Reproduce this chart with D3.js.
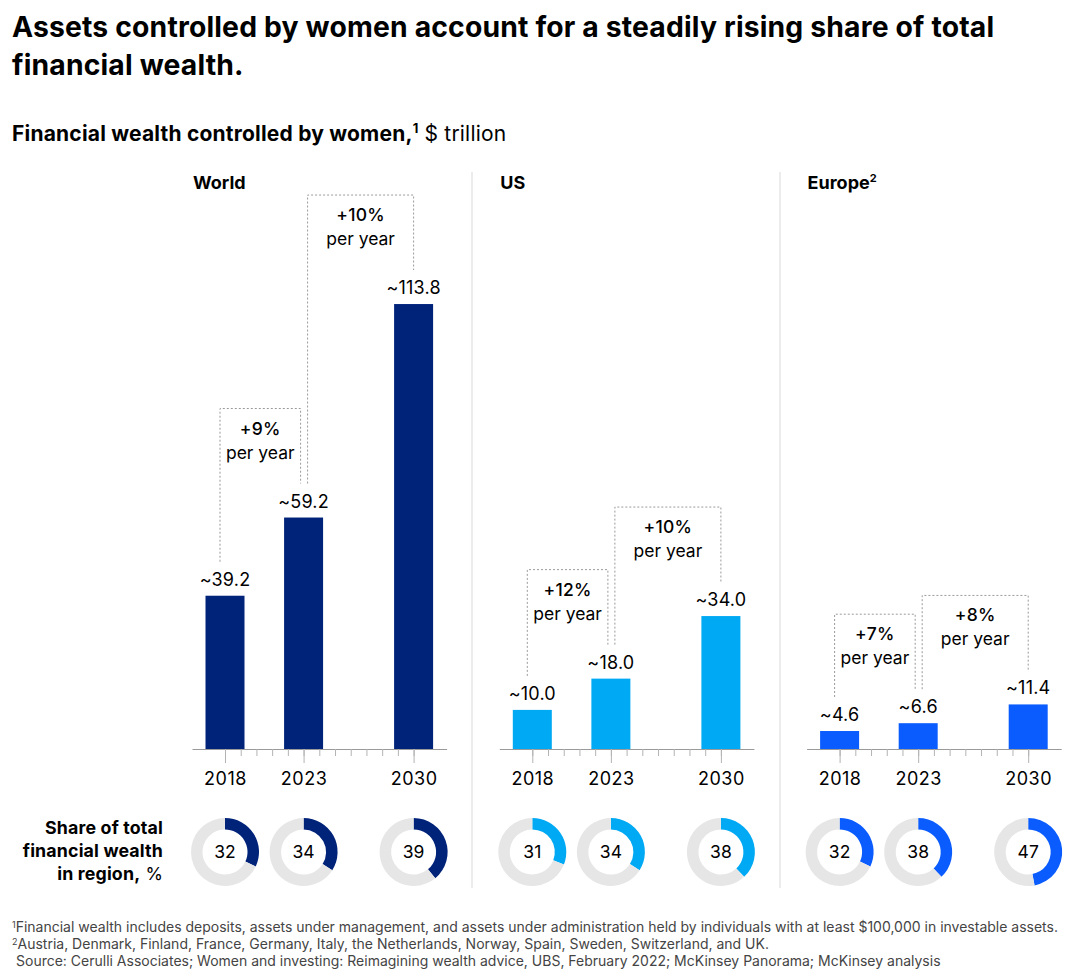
<!DOCTYPE html>
<html><head><meta charset="utf-8">
<script src="https://cdn.jsdelivr.net/npm/d3@7"></script>
<style>
body{margin:0;background:#fff;}
svg{display:block;font-family:Inter,"Liberation Sans",Arial,sans-serif;}
</style></head>
<body>
<svg id="chart" width="1080" height="978"></svg>
<script>
const years = [2018, 2023, 2030];
const regions = ["World", "US", "Europe"];
const worldValues = [39.2, 59.2, 113.8];
const usValues = [10.0, 18.0, 34.0];
const europeValues = [4.6, 6.6, 11.4];
const worldShares = [32, 34, 39];
const usShares = [31, 34, 38];
const europeShares = [32, 38, 47];
const worldGrowth = ["+9%", "+10%"];
const usGrowth = ["+12%", "+10%"];
const europeGrowth = ["+7%", "+8%"];
const regionColors = ["#00237a", "#00a9f4", "#0a5cff"];

const valuesByRegion = [worldValues, usValues, europeValues];
const sharesByRegion = [worldShares, usShares, europeShares];
const growthByRegion = [worldGrowth, usGrowth, europeGrowth];

const svg = d3.select("#chart");
const baseY = 749;
const y = d3.scaleLinear().domain([0, 120]).range([baseY, baseY - 469.2]);
const panelLefts = [192, 499.3, 806.6];
const panelW = 254.6;
const barW = 39;

// Title
const title = svg.append("text").attr("x", 12).attr("font-weight", 700).attr("font-size", 28.3)
  .attr("letter-spacing", 0.17).attr("fill", "#000");
title.append("tspan").attr("x", 12).attr("y", 37).text("Assets controlled by women account for a steadily rising share of total");
title.append("tspan").attr("x", 12).attr("y", 75).text("financial wealth.");

// Subtitle
const sub = svg.append("text").attr("x", 12).attr("y", 141).attr("font-size", 21).attr("letter-spacing", 0.2).attr("fill", "#000");
sub.append("tspan").attr("font-weight", 700).text("Financial wealth controlled by women,");
sub.append("tspan").attr("font-weight", 700).attr("font-size", 13).attr("dy", -8).text("1");
sub.append("tspan").attr("dy", 8).text(" $ trillion");

// Dividers
[472, 780].forEach(x => {
  svg.append("line").attr("x1", x).attr("x2", x).attr("y1", 172).attr("y2", 888)
    .attr("stroke", "#d9d9d9").attr("stroke-width", 1);
});

regions.forEach((region, ri) => {
  const left = panelLefts[ri];
  const x = d3.scaleLinear().domain([2015.9, 2032.1]).range([left, left + panelW]);
  const vals = valuesByRegion[ri];
  const shares = sharesByRegion[ri];
  const growth = growthByRegion[ri];
  const color = regionColors[ri];
  const g = svg.append("g");

  // Panel title
  const pt = g.append("text").attr("x", left + 1).attr("y", 189).attr("font-size", 18).attr("font-weight", 700).attr("fill", "#000");
  pt.append("tspan").text(region);
  if (region === "Europe") pt.append("tspan").attr("font-size", 11).attr("dy", -7).text("2");

  // Bars
  g.selectAll("rect.bar").data(vals).join("rect").attr("class", "bar")
    .attr("x", (d, i) => x(years[i]) - barW / 2)
    .attr("width", barW)
    .attr("y", d => y(d))
    .attr("height", d => baseY - y(d))
    .attr("fill", color);

  // Value labels
  g.selectAll("text.val").data(vals).join("text").attr("class", "val")
    .attr("x", (d, i) => x(years[i]))
    .attr("y", d => y(d) - 10)
    .attr("text-anchor", "middle").attr("font-size", 18).attr("letter-spacing", 0.2).attr("fill", "#000")
    .text(d => "~" + d.toFixed(1));

  // Axis: minor ticks every year
  const minor = d3.axisBottom(x).tickValues(d3.range(2018, 2031)).tickSize(7).tickSizeOuter(0).tickFormat("");
  const ga = g.append("g").attr("transform", `translate(0,${baseY})`).call(minor);
  ga.select(".domain").attr("stroke", "#9a9a9a");
  ga.selectAll(".tick line").attr("stroke", "#b3b3b3");
  const major = d3.axisBottom(x).tickValues(years).tickSize(14).tickPadding(9).tickFormat(d3.format("d"));
  const gm = g.append("g").attr("transform", `translate(0,${baseY})`).call(major);
  gm.select(".domain").remove();
  gm.selectAll(".tick line").attr("stroke", "#b3b3b3");
  gm.selectAll(".tick text").attr("font-size", 18).attr("letter-spacing", 0.5).attr("fill", "#000")
    .attr("font-family", "Inter, Liberation Sans, Arial, sans-serif");

  // Growth brackets
  const pairs = [[0, 1, -5, -3], [1, 2, 4, 0]];
  pairs.forEach((p, k) => {
    const x1 = x(years[p[0]]) + p[2];
    const x2 = x(years[p[1]]) + p[3];
    const topY = y(Math.max(vals[p[0]], vals[p[1]])) - 109;
    const b1 = y(vals[p[0]]) - 34;
    const b2 = y(vals[p[1]]) - 34;
    g.append("path")
      .attr("d", `M${x1},${b1}V${topY}H${x2}V${b2}`)
      .attr("fill", "none").attr("stroke", "#9a9a9a").attr("stroke-width", 1).attr("stroke-dasharray", "2,2");
    const cx = (x1 + x2) / 2;
    g.append("text").attr("x", cx).attr("y", topY + 26).attr("text-anchor", "middle")
      .attr("font-size", 17.5).attr("font-weight", 500).attr("letter-spacing", 0.3).attr("fill", "#000").text(growth[k]);
    g.append("text").attr("x", cx).attr("y", topY + 50).attr("text-anchor", "middle")
      .attr("font-size", 17.5).attr("fill", "#000").text("per year");
  });

  // Donuts
  const arc = d3.arc().innerRadius(22.5).outerRadius(34);
  const pie = d3.pie().sort(null).value(d => d);
  shares.forEach((s, i) => {
    const dg = g.append("g").attr("transform", `translate(${x(years[i])},852)`);
    dg.selectAll("path").data(pie([s, 100 - s])).join("path")
      .attr("d", arc).attr("fill", (d, j) => j === 0 ? color : "#e6e6e6");
    dg.append("text").attr("text-anchor", "middle").attr("dy", "0.35em")
      .attr("font-size", 17.5).attr("fill", "#000").text(s);
  });
});

// Share label
const sl = svg.append("g").attr("font-size", 17.8).attr("letter-spacing", 0.15).attr("fill", "#000").attr("text-anchor", "end");
sl.append("text").attr("x", 163).attr("y", 834).attr("font-weight", 700).text("Share of total");
sl.append("text").attr("x", 163).attr("y", 857).attr("font-weight", 700).text("financial wealth");
const l3 = sl.append("text").attr("x", 163).attr("y", 880);
l3.append("tspan").attr("font-weight", 700).text("in region,");
l3.append("tspan").text(" %");

// Footnotes
const fn = svg.append("g").attr("font-size", 14).attr("fill", "#444");
const f1 = fn.append("text").attr("x", 12).attr("y", 932);
f1.append("tspan").attr("font-size", 9).attr("dy", -4).text("1");
f1.append("tspan").attr("dy", 4).text("Financial wealth includes deposits, assets under management, and assets under administration held by individuals with at least $100,000 in investable assets.");
const f2 = fn.append("text").attr("x", 12).attr("y", 949);
f2.append("tspan").attr("font-size", 9).attr("dy", -4).text("2");
f2.append("tspan").attr("dy", 4).text("Austria, Denmark, Finland, France, Germany, Italy, the Netherlands, Norway, Spain, Sweden, Switzerland, and UK.");
fn.append("text").attr("x", 16).attr("y", 966).text("Source: Cerulli Associates; Women and investing: Reimagining wealth advice, UBS, February 2022; McKinsey Panorama; McKinsey analysis");
</script>
</body></html>
